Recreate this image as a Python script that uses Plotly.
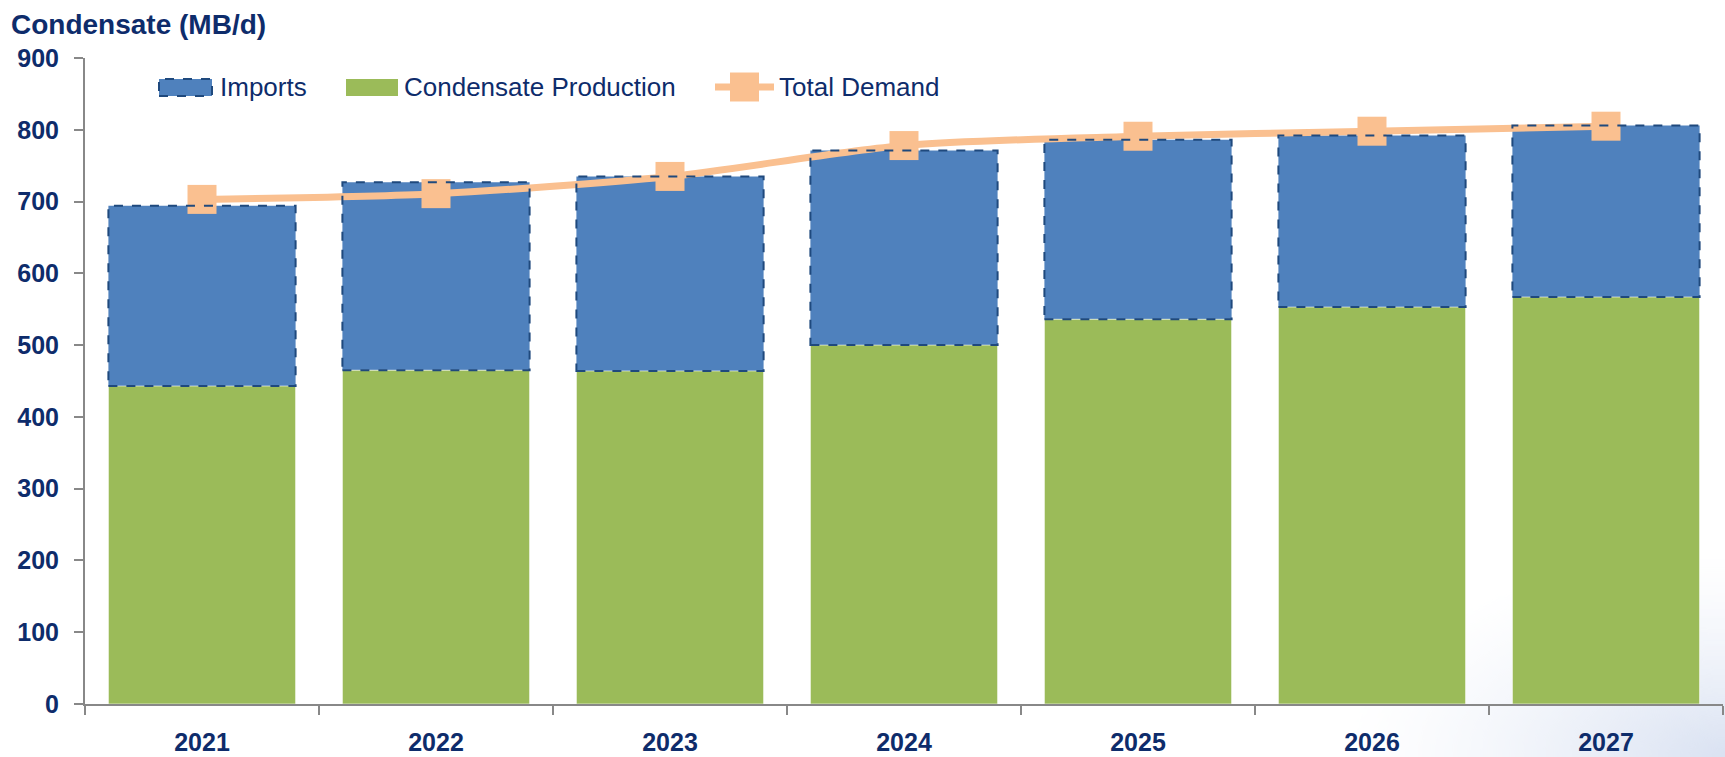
import base64
import struct
import zlib

import plotly.graph_objects as go

years = ["2021", "2022", "2023", "2024", "2025", "2026", "2027"]
production = [443, 465, 464, 500, 536, 553, 567]
imports = [251, 262, 271, 271, 250, 239, 239]
total_demand = [703, 711, 735, 778, 791, 798, 805]
y_ticks = [0, 100, 200, 300, 400, 500, 600, 700, 800, 900]

FONT = "Liberation Sans, Arial, sans-serif"
NAVY = "#0E2C6B"
AXIS = "#888888"
C_IMP = "#4F81BD"
C_IMP_LINE = "#1F497D"
C_PROD = "#9BBB59"
C_DEM = "#FAC090"

W, H = 1725, 757
ML, MR, MT, MB = 85, 2, 58, 53
PW, PH = W - ML - MR, H - MT - MB


def px(x):
    return (x - ML) / PW


def py(y):
    return (H - MB - y) / PH


def corner_glow_png(w=90, h=46, rgb=(218, 226, 242)):
    """Soft bluish background glow for the bottom-right corner (decoration)."""
    rows = []
    for j in range(h):
        row = bytearray([0])
        v = j / (h - 1)
        for i in range(w):
            u = i / (w - 1)
            d = ((1 - u) ** 2 + (1 - v) ** 2) ** 0.5
            a = max(0.0, 1.0 - d) ** 1.4
            row += bytes([rgb[0], rgb[1], rgb[2], int(255 * min(1.0, a))])
        rows.append(bytes(row))
    raw = b"".join(rows)

    def chunk(tag, data):
        c = struct.pack(">I", len(data)) + tag + data
        return c + struct.pack(">I", zlib.crc32(tag + data) & 0xFFFFFFFF)

    png = b"\x89PNG\r\n\x1a\n"
    png += chunk(b"IHDR", struct.pack(">IIBBBBB", w, h, 8, 6, 0, 0, 0))
    png += chunk(b"IDAT", zlib.compress(raw, 9))
    png += chunk(b"IEND", b"")
    return "data:image/png;base64," + base64.b64encode(png).decode()


fig = go.Figure()
fig.add_trace(go.Bar(
    name="Imports", x=years, y=imports, base=production,
    marker=dict(color=C_IMP, line=dict(width=0)),
    width=0.8, showlegend=False,
))
fig.add_trace(go.Bar(
    name="Condensate Production", x=years, y=production,
    marker=dict(color=C_PROD, line=dict(color="rgba(255,255,255,0.6)", width=1)),
    width=0.8, showlegend=False,
))
fig.add_trace(go.Scatter(
    name="Total Demand", x=years, y=total_demand, mode="lines+markers",
    line=dict(color=C_DEM, width=7, shape="spline", smoothing=0.8),
    marker=dict(symbol="square", size=29, color=C_DEM),
    showlegend=False,
))

# dashed outline of import bars (data coordinates)
shapes = []
for i, (p, im) in enumerate(zip(production, imports)):
    shapes.append(dict(
        type="rect", xref="x", yref="y",
        x0=i - 0.4, x1=i + 0.4, y0=p, y1=p + im,
        line=dict(color=C_IMP_LINE, width=2, dash="dash"),
        fillcolor="rgba(0,0,0,0)", layer="above",
    ))

# custom legend (swatches + labels)
ly_top, ly_bot, ly_mid = 79, 96, 87
shapes.append(dict(type="rect", xref="paper", yref="paper",
                   x0=px(159), x1=px(212), y0=py(ly_bot), y1=py(ly_top),
                   fillcolor=C_IMP, line=dict(color=C_IMP_LINE, width=2, dash="dash")))
shapes.append(dict(type="rect", xref="paper", yref="paper",
                   x0=px(346), x1=px(398), y0=py(ly_bot), y1=py(ly_top),
                   fillcolor=C_PROD, line=dict(width=0)))
shapes.append(dict(type="line", xref="paper", yref="paper",
                   x0=px(715), x1=px(774), y0=py(ly_mid), y1=py(ly_mid),
                   line=dict(color=C_DEM, width=7)))
shapes.append(dict(type="rect", xref="paper", yref="paper",
                   x0=px(730), x1=px(759), y0=py(ly_mid + 14.5), y1=py(ly_mid - 14.5),
                   fillcolor=C_DEM, line=dict(width=0)))

legend_labels = ["Imports", "Condensate Production", "Total Demand"]
legend_x = [218, 402, 777]
annotations = []
for lab, lx in zip(legend_labels, legend_x):
    annotations.append(dict(
        text=lab, xref="paper", yref="paper", x=px(lx), y=py(ly_mid),
        xanchor="left", yanchor="middle", showarrow=False,
        font=dict(family=FONT, size=26, color=NAVY),
    ))

fig.update_layout(
    width=W, height=H,
    barmode="overlay",
    paper_bgcolor="white", plot_bgcolor="rgba(0,0,0,0)",
    margin=dict(l=ML, r=MR, t=MT, b=MB),
    font=dict(family=FONT, color=NAVY),
    shapes=shapes,
    annotations=annotations,
    images=[dict(
        source=corner_glow_png(), xref="paper", yref="paper",
        x=px(1330), y=py(545), sizex=px(W) - px(1330), sizey=py(545) - py(H),
        xanchor="left", yanchor="top", sizing="stretch", layer="below",
    )],
    showlegend=False,
    title=dict(
        text="<b>Condensate (MB/d)</b>",
        x=11 / W, xanchor="left", xref="container",
        y=1 - 24 / H, yanchor="middle", yref="container",
        font=dict(family=FONT, size=28, color=NAVY),
    ),
    xaxis=dict(
        type="category", tickson="boundaries",
        ticks="outside", ticklen=9, tickwidth=2, tickcolor=AXIS,
        showline=True, linecolor=AXIS, linewidth=2,
        showgrid=False, range=[-0.5, 6.5],
        tickfont=dict(family=FONT, size=25, color=NAVY, weight="bold"),
        ticklabelstandoff=15,
    ),
    yaxis=dict(
        range=[0, 900], tickvals=y_ticks,
        ticks="outside", ticklen=9, tickwidth=2, tickcolor=AXIS,
        showline=True, linecolor=AXIS, linewidth=2,
        showgrid=False, zeroline=False,
        tickfont=dict(family=FONT, size=25, color=NAVY, weight="bold"),
        ticklabelstandoff=10,
    ),
)

fig.write_html("out.html", config={"displayModeBar": False},
               post_script="document.body.style.margin='0px';")
